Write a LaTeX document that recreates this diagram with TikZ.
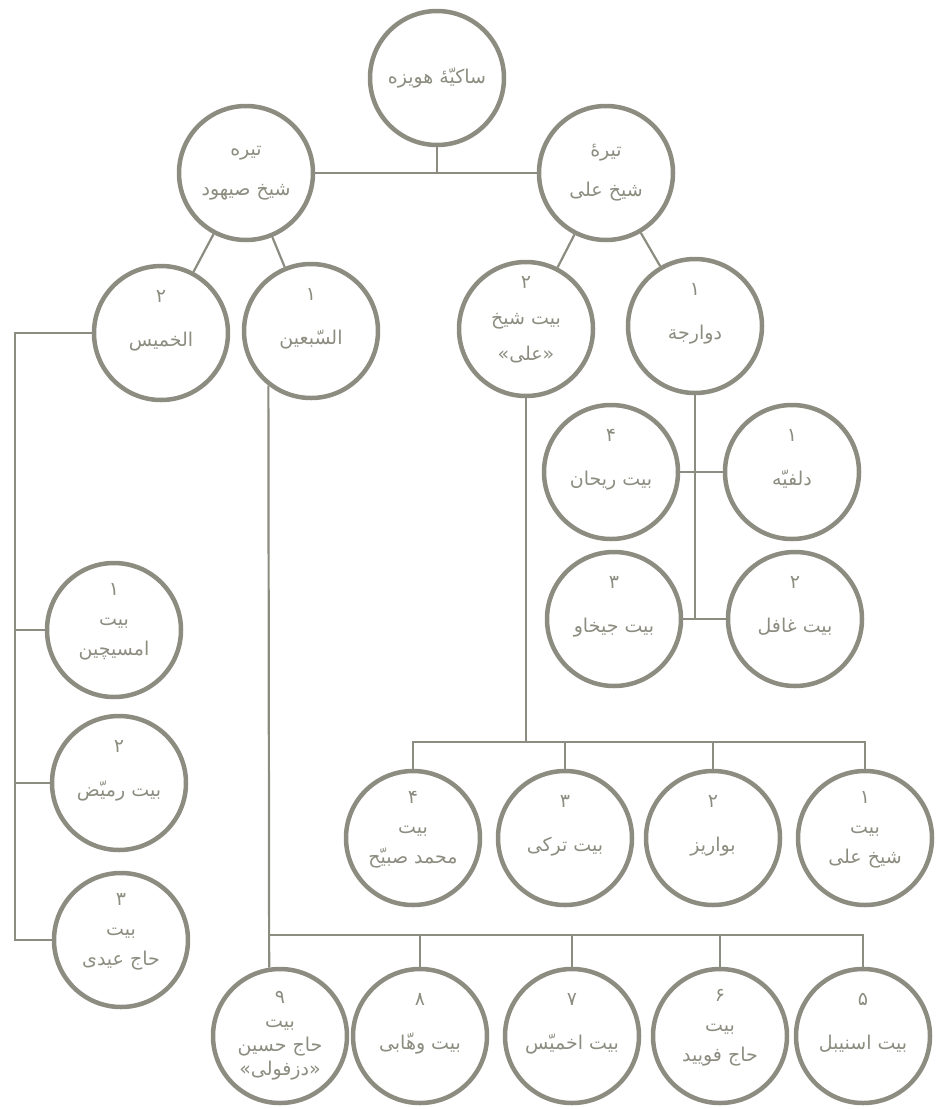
\documentclass[tikz,border=0pt]{standalone}
\usepackage{fontspec}
\usepackage{tikz}
\newfontfamily\arabicfont[Script=Arabic]{DejaVu Sans}
\TeXXeTstate=1
\newcommand{\fa}[1]{\beginR #1\endR}
\definecolor{ink}{RGB}{140,140,128}

\begin{document}
\begin{tikzpicture}[x=1pt, y=-1pt,
    clan/.style={circle, draw=ink, line width=4.5pt, minimum size=134pt,
                 inner sep=0pt, align=center, text=ink,
                 font=\arabicfont\fontsize{19}{30}\selectfont},
    link/.style={draw=ink, line width=2.2pt},
]
\useasboundingbox (0,0) rectangle (935,1109);

% root
\node[clan] (root) at (437,78) {\fa{ساکیّهٔ هویزه}};

% the two tiras
\node[clan] (tsh) at (246,173) {\fa{تیره}\\[10pt]\fa{شیخ صیهود}};
\node[clan] (tal) at (606,173) {\fa{تیرهٔ}\\[10pt]\fa{شیخ علی}};

% their branches
\node[clan] (khm) at (161,333) {\fa{۲}\\[14pt]\fa{الخمیس}\\\mbox{}};
\node[clan] (sab) at (311,331) {\fa{۱}\\[14pt]\fa{السّبعین}\\\mbox{}};
\node[clan] (bsh) at (526,329) {\fa{۲}\\[6pt]\fa{بیت شیخ}\\[6pt]\fa{«علی»}\\[-8pt]\mbox{}};
\node[clan] (daw) at (695,326) {\fa{۱}\\[14pt]\fa{دوارجة}\\\mbox{}};

% dawarija houses
\node[clan] (rih) at (611,472) {\fa{۴}\\[14pt]\fa{بیت ریحان}\\\mbox{}};
\node[clan] (dlf) at (792,472) {\fa{۱}\\[14pt]\fa{دلفیّه}\\\mbox{}};
\node[clan] (jik) at (614,619) {\fa{۳}\\[14pt]\fa{بیت جیخاو}\\\mbox{}};
\node[clan] (gha) at (795,619) {\fa{۲}\\[14pt]\fa{بیت غافل}\\\mbox{}};

% bayt sheikh ali houses
\node[clan] (msb) at (413,838) {\fa{۴}\\\fa{بیت}\\\fa{محمد صبیّح}\\[-8pt]\mbox{}};
\node[clan] (tur) at (565,838) {\fa{۳}\\[14pt]\fa{بیت ترکی}\\\mbox{}};
\node[clan] (baw) at (713,838) {\fa{۲}\\[14pt]\fa{بواریز}\\\mbox{}};
\node[clan] (bsa) at (865,838) {\fa{۱}\\\fa{بیت}\\\fa{شیخ علی}\\[-8pt]\mbox{}};

% as-sab'in houses
\node[clan] (haj) at (280,1036) {\fa{۹}\\[-6pt]\fa{بیت}\\[-6pt]\fa{حاج حسین}\\[-6pt]\fa{«دزفولی»}};
\node[clan] (wah) at (420,1036) {\fa{۸}\\[14pt]\fa{بیت وهّابی}\\\mbox{}};
\node[clan] (akh) at (572,1036) {\fa{۷}\\[14pt]\fa{بیت اخمیّس}\\\mbox{}};
\node[clan] (faw) at (720,1036) {\fa{۶}\\\fa{بیت}\\\fa{حاج فویید}\\[-8pt]\mbox{}};
\node[clan] (isn) at (863,1036) {\fa{۵}\\[14pt]\fa{بیت اسنیبل}\\\mbox{}};

% al-khamis houses
\node[clan] (ams) at (114,630) {\fa{۱}\\\fa{بیت}\\\fa{امسیچین}\\[-8pt]\mbox{}};
\node[clan] (rum) at (119,783) {\fa{۲}\\[14pt]\fa{بیت رمیّض}\\\mbox{}};
\node[clan] (eid) at (121,940) {\fa{۳}\\\fa{بیت}\\\fa{حاج عیدی}\\[-8pt]\mbox{}};

% top links
\draw[link] (root) -- (root |- tsh);
\draw[link] (tsh) -- (tal);
\draw[link] (tsh) -- (khm);
\draw[link] (tsh) -- (sab);
\draw[link] (tal) -- (bsh);
\draw[link] (tal) -- (daw);

% al-khamis column
\coordinate (kc) at (15,333);
\draw[link] (khm) -- (kc) |- (eid);
\draw[link] (ams) -- (ams -| kc);
\draw[link] (rum) -- (rum -| kc);

% as-sab'in down to the lower row
\coordinate (j2) at (270,935);
\draw[link] (sab.232) -- (haj.99);
\draw[link] (j2) -| (isn);
\foreach \n in {wah,akh,faw} \draw[link] (\n) -- (\n |- j2);

% bayt sheikh to the first row
\coordinate (j1) at (526,742);
\draw[link] (bsh) -- (j1);
\draw[link] (msb) -- (msb |- j1) -- (bsa |- j1) -- (bsa);
\foreach \n in {tur,baw} \draw[link] (\n) -- (\n |- j1);

% dawarija cluster
\draw[link] (daw) -- (daw |- jik);
\draw[link] (rih) -- (dlf);
\draw[link] (jik) -- (gha);

\end{tikzpicture}
\end{document}
